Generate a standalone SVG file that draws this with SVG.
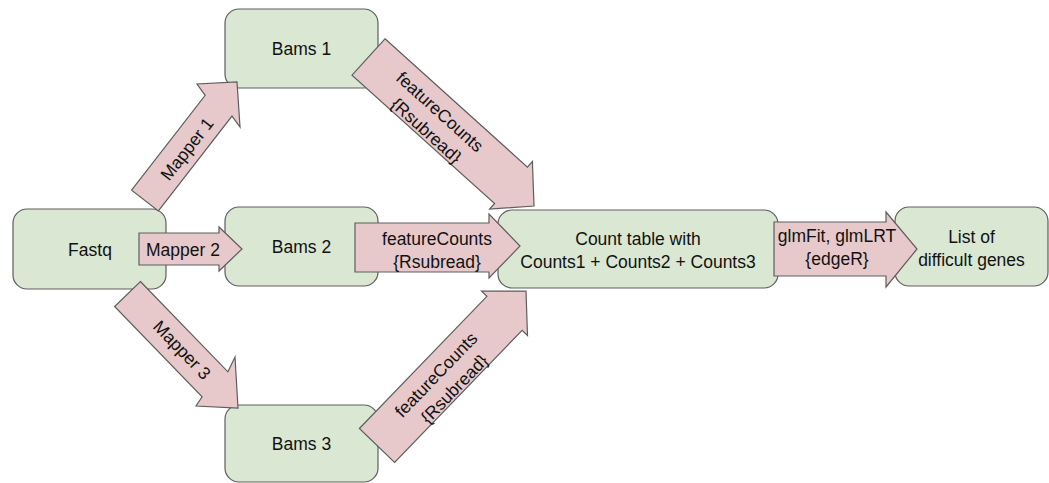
<svg xmlns="http://www.w3.org/2000/svg" width="1049" height="483" viewBox="0 0 1049 483">
  <style>
    .node rect { fill: #dae7d3; stroke: #5e5e5e; stroke-width: 1.2; }
    .arrow { fill: #e7c9cb; stroke: #5e5e5e; stroke-width: 1.2; stroke-linejoin: miter; }
    text { font-family: "Liberation Sans", Arial, sans-serif; font-size: 17.5px; fill: #111; text-anchor: middle; }
  </style>
  <rect width="1049" height="483" fill="#ffffff"/>

  <!-- nodes -->
  <g id="fastq" class="node">
    <rect x="13" y="209" width="153" height="80" rx="14"/>
    <text x="90" y="255.5">Fastq</text>
  </g>
  <g id="bams1" class="node">
    <rect x="225" y="9" width="153" height="79" rx="14"/>
    <text x="301.5" y="55">Bams 1</text>
  </g>
  <g id="bams2" class="node">
    <rect x="225" y="207" width="153" height="79" rx="14"/>
    <text x="301.5" y="253">Bams 2</text>
  </g>
  <g id="bams3" class="node">
    <rect x="225" y="405" width="153" height="77" rx="14"/>
    <text x="301.5" y="450">Bams 3</text>
  </g>
  <g id="count-table" class="node">
    <rect x="498" y="210" width="280" height="78" rx="14"/>
    <text x="638" y="245">Count table with</text>
    <text x="638" y="268">Counts1 + Counts2 + Counts3</text>
  </g>
  <g id="gene-list" class="node">
    <rect x="895" y="207" width="153" height="79" rx="14"/>
    <text x="971.5" y="243">List of</text>
    <text x="971.5" y="266">difficult genes</text>
  </g>

  <!-- connectors: block arrows with labels -->
  <g id="connectors">
    <g id="mapper1">
      <polygon class="arrow" points="131.6,190.1 205.2,95.3 197,84 237,82 240,127 232,116.1 158.4,210.9"/>
      <text transform="translate(187,149) rotate(-52)" x="0" y="6">Mapper 1</text>
    </g>
    <g id="mapper2">
      <polygon class="arrow" points="139,233 219,233 219,227 242,249 219,271 219,265 139,265"/>
      <text x="183" y="255.5">Mapper 2</text>
    </g>
    <g id="mapper3">
      <polygon class="arrow" points="140.4,281.5 227.9,371.8 235,357 238,408 196,406 202.1,396.8 114.6,306.5"/>
      <text transform="translate(182,350) rotate(46)" x="0" y="6">Mapper 3</text>
    </g>
    <g id="count1">
      <polygon class="arrow" points="385,38.8 527.4,167.1 532.4,161.5 534,206 489.6,209.1 494.6,203.5 352,75.2"/>
      <text transform="translate(434,122) rotate(42)">
        <tspan x="0" y="-5.5">featureCounts</tspan>
        <tspan x="0" y="17.5">{Rsubread}</tspan>
      </text>
    </g>
    <g id="count2">
      <polygon class="arrow" points="355,223 489,223 489,214 520,246 489,278 489,272 355,272"/>
      <text x="437" y="245">featureCounts</text>
      <text x="437" y="268">{Rsubread}</text>
    </g>
    <g id="count3">
      <polygon class="arrow" points="359.4,428.5 486.9,296.3 481.5,291.1 526,291 527.5,335.5 522.1,330.3 394.6,462.5"/>
      <text transform="translate(446,381) rotate(-46)">
        <tspan x="0" y="-5.5">featureCounts</tspan>
        <tspan x="0" y="17.5">{Rsubread}</tspan>
      </text>
    </g>
    <g id="edger">
      <polygon class="arrow" points="774,222 886,222 886,212 917,249 886,287 886,276 774,276"/>
      <text x="837" y="242">glmFit, glmLRT</text>
      <text x="837" y="265">{edgeR}</text>
    </g>
  </g>
</svg>
